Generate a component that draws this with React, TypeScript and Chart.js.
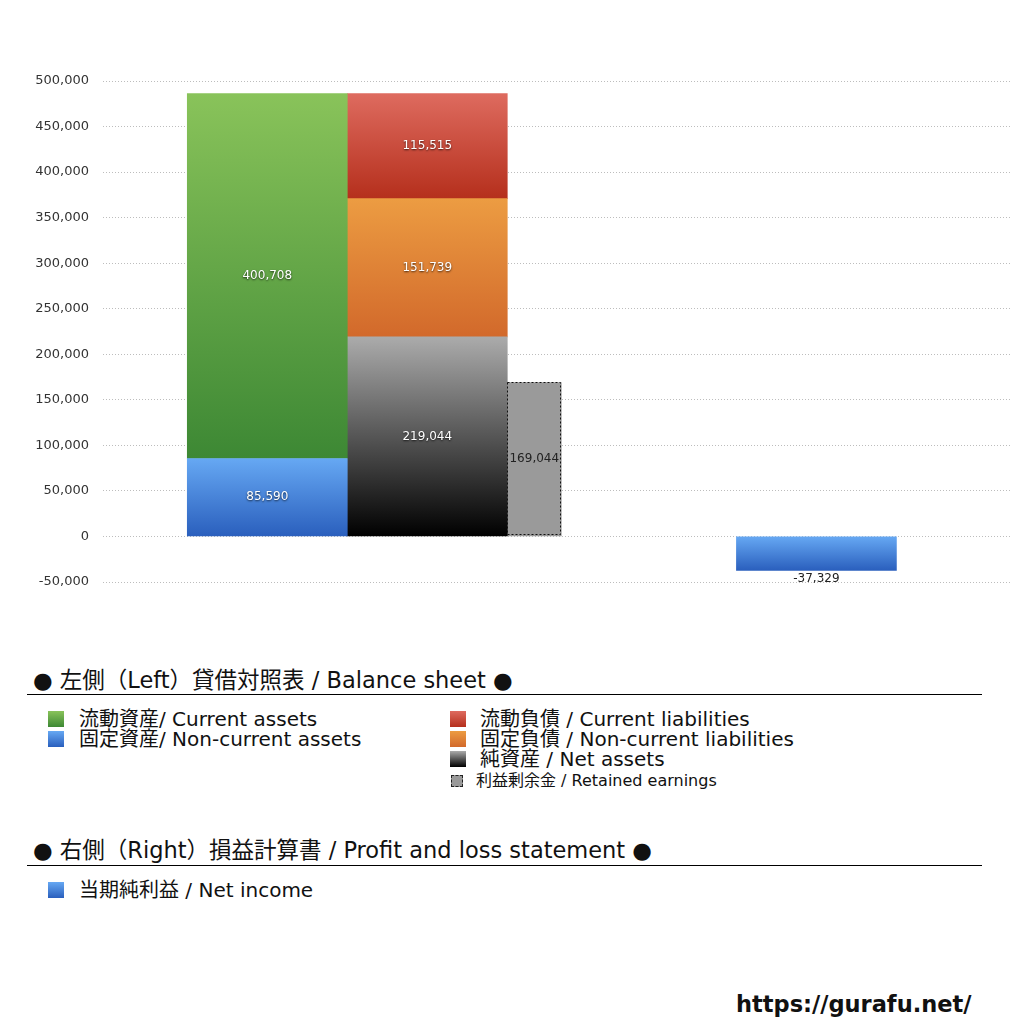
import { useEffect, useRef } from 'react';
import { Chart, registerables } from 'chart.js';

Chart.register(...registerables);

// hidden category slots: balance sheet sits in slot 2, P/L in slot 5
const columns = ['', '', '貸借対照表', '', '', '損益計算書', ''];

const nonCurrentAssets = [null, null, 85590, null, null, null, null];
const currentAssets = [null, null, 400708, null, null, null, null];
const netAssets = [null, null, 219044, null, null, null, null];
const nonCurrentLiabilities = [null, null, 151739, null, null, null, null];
const currentLiabilities = [null, null, 115515, null, null, null, null];
const retainedEarnings = [null, null, 169044, null, null, null, null];
const netIncome = [null, null, null, null, null, -37329, null];

const yTicks = [-50000, 0, 50000, 100000, 150000, 200000, 250000, 300000, 350000, 400000, 450000, 500000];

const bsLeftLegend = ['流動資産/ Current assets', '固定資産/ Non-current assets'];
const bsRightLegend = ['流動負債 /  Current liabilities', '固定負債 / Non-current liabilities', '純資産 / Net assets'];
const retainedLegend = '利益剰余金 / Retained earnings';
const plLegend = ['当期純利益 / Net income'];

const GREEN = ['#89c35a', '#3d8834'];
const BLUE = ['#66a8f3', '#2a5fbd'];
const RED = ['#de6b5f', '#b52f1c'];
const ORANGE = ['#ec9c42', '#d2692b'];
const BLACK = ['#ababab', '#000000'];

const LATIN = '"DejaVu Sans", "Noto Sans CJK JP", sans-serif';

const fmt = (v: number) => v.toLocaleString('en-US');

// vertical gradient stretched over the bar's own value range
const gradientFill = (top: string, bottom: string) => (c: any) => {
  const chart = c.chart;
  const y = chart.scales.y;
  if (!y || !chart.chartArea) return bottom;
  const sets = chart.data.datasets;
  const own = sets[c.datasetIndex];
  const v = own.data[c.dataIndex];
  if (v == null) return bottom;
  let base = 0;
  for (let i = 0; i < c.datasetIndex; i++) {
    if (sets[i].stack === own.stack) base += sets[i].data[c.dataIndex] ?? 0;
  }
  const p1 = y.getPixelForValue(base);
  const p2 = y.getPixelForValue(base + v);
  const t = Math.min(p1, p2);
  const b = Math.max(p1, p2);
  if (!isFinite(t) || !isFinite(b) || b - t < 1) return bottom;
  const g = chart.ctx.createLinearGradient(0, t, 0, b);
  g.addColorStop(0, top);
  g.addColorStop(1, bottom);
  return g;
};

const valueLabels = {
  id: 'valueLabels',
  afterDatasetsDraw(chart: any) {
    const ctx = chart.ctx;
    chart.data.datasets.forEach((ds: any, i: number) => {
      const meta = chart.getDatasetMeta(i);
      meta.data.forEach((el: any, j: number) => {
        const v = ds.data[j];
        if (v == null) return;
        const { x, y, base, width } = el.getProps(['x', 'y', 'base', 'width'], true);
        const top = Math.min(y, base);
        const bottom = Math.max(y, base);
        ctx.save();
        if (ds.dashed) {
          ctx.strokeStyle = '#111';
          ctx.lineWidth = 1;
          ctx.setLineDash([2, 2]);
          ctx.strokeRect(Math.round(x - width / 2) + 0.5, Math.round(top) + 0.5, Math.round(width) - 1, Math.round(bottom - top) - 1);
          ctx.setLineDash([]);
        }
        ctx.font = '12px "DejaVu Sans", sans-serif';
        ctx.textAlign = 'center';
        ctx.textBaseline = 'middle';
        if (v < 0) {
          ctx.fillStyle = '#222';
          ctx.fillText(fmt(v), x, bottom + 8);
        } else if (ds.darkLabel) {
          ctx.fillStyle = '#222';
          ctx.fillText(fmt(v), x, (top + bottom) / 2);
        } else {
          ctx.shadowColor = 'rgba(0,0,0,0.75)';
          ctx.shadowBlur = 2;
          ctx.shadowOffsetY = 1;
          ctx.fillStyle = '#fff';
          ctx.fillText(fmt(v), x, (top + bottom) / 2);
        }
        ctx.restore();
      });
    });
  },
};

function BalanceChart() {
  const chartRef = useRef<HTMLCanvasElement>(null);
  const chartInstance = useRef<Chart | null>(null);

  useEffect(() => {
    if (!chartRef.current) return;
    if (chartInstance.current) {
      chartInstance.current.destroy();
    }
    const ctx = chartRef.current.getContext('2d');
    if (!ctx) return;

    const bar = (label: string, data: (number | null)[], stack: string, colors: string[]) => ({
      label,
      data,
      stack,
      backgroundColor: gradientFill(colors[0], colors[1]),
      borderWidth: 0,
      barThickness: 160,
      skipNull: true,
    });

    chartInstance.current = new Chart(ctx, {
      type: 'bar',
      data: {
        labels: columns,
        datasets: [
          bar('固定資産', nonCurrentAssets, 'assets', BLUE),
          bar('流動資産', currentAssets, 'assets', GREEN),
          bar('純資産', netAssets, 'claims', BLACK),
          bar('固定負債', nonCurrentLiabilities, 'claims', ORANGE),
          bar('流動負債', currentLiabilities, 'claims', RED),
          {
            label: '利益剰余金',
            data: retainedEarnings,
            stack: 'retained',
            backgroundColor: '#9a9a9a',
            borderWidth: 0,
            barThickness: 107,
            maxBarThickness: 54,
            skipNull: true,
            dashed: true,
            darkLabel: true,
          } as any,
          bar('当期純利益', netIncome, 'income', BLUE),
        ],
      },
      options: {
        animation: false,
        responsive: true,
        maintainAspectRatio: false,
        layout: { padding: { top: 81, right: 13, bottom: 38, left: 0 } },
        scales: {
          x: {
            display: false,
            stacked: true,
            offset: true,
          },
          y: {
            stacked: true,
            min: yTicks[0],
            max: yTicks[yTicks.length - 1],
            afterFit: (scale: any) => {
              scale.width = 103;
            },
            ticks: {
              stepSize: yTicks[1] - yTicks[0],
              padding: 14,
              color: '#333',
              font: { family: '"DejaVu Sans", sans-serif', size: 13 },
              callback: (value) => fmt(Number(value)),
            },
            grid: {
              color: '#bdbdbd',
              lineWidth: 1,
              drawTicks: false,
            },
            border: { display: false, dash: [1, 2] },
          },
        },
        plugins: {
          legend: { display: false },
          tooltip: { enabled: false },
        },
      },
      plugins: [valueLabels],
    });

    return () => {
      if (chartInstance.current) {
        chartInstance.current.destroy();
        chartInstance.current = null;
      }
    };
  }, []);

  return (
    <div style={{ position: 'absolute', left: 0, top: 0, width: 1024, height: 620 }}>
      <canvas ref={chartRef} />
    </div>
  );
}

const swatch = (colors: string[], left: number, cy: number, size = 16) => (
  <div
    style={{
      position: 'absolute',
      left,
      top: cy - size / 2,
      width: size,
      height: size,
      background: `linear-gradient(${colors[0]}, ${colors[1]})`,
    }}
  />
);

const text = (s: string, left: number, cy: number, size: number) => (
  <div
    style={{
      position: 'absolute',
      left,
      top: cy - 14,
      height: 28,
      lineHeight: '28px',
      fontSize: size,
      whiteSpace: 'nowrap',
      color: '#111',
    }}
  >
    {s}
  </div>
);

export default function App() {
  return (
    <div
      style={{
        position: 'absolute',
        left: 0,
        top: 0,
        width: 1024,
        height: 1024,
        background: '#fff',
        fontFamily: LATIN,
        overflow: 'hidden',
      }}
    >
      <BalanceChart />

      {text('● 左側（Left）貸借対照表 / Balance sheet ●', 33, 680, 22.5)}
      <div style={{ position: 'absolute', left: 27, top: 694, width: 955, height: 1, background: '#000' }} />
      {swatch(GREEN, 48, 719)}
      {text(bsLeftLegend[0], 79, 719, 20)}
      {swatch(BLUE, 48, 739)}
      {text(bsLeftLegend[1], 79, 739, 20)}
      {swatch(RED, 450, 719)}
      {text(bsRightLegend[0], 480, 719, 20)}
      {swatch(ORANGE, 450, 739)}
      {text(bsRightLegend[1], 480, 739, 20)}
      {swatch(BLACK, 450, 759)}
      {text(bsRightLegend[2], 480, 759, 20)}
      <div
        style={{
          position: 'absolute',
          left: 451,
          top: 775,
          width: 10,
          height: 10,
          background: '#9a9a9a',
          border: '1px dashed #222',
        }}
      />
      {text(retainedLegend, 476, 781, 16)}

      {text('● 右側（Right）損益計算書 / Profit and loss statement ●', 33, 850, 22.5)}
      <div style={{ position: 'absolute', left: 27, top: 865, width: 955, height: 1, background: '#000' }} />
      {swatch(BLUE, 48, 890)}
      {text(plLegend[0], 79, 890, 20)}

      <div
        style={{
          position: 'absolute',
          left: 736,
          top: 988,
          fontSize: 22.5,
          fontWeight: 700,
          lineHeight: '32px',
          color: '#111',
          fontFamily: '"DejaVu Sans", sans-serif',
        }}
      >
        https://gurafu.net/
      </div>
    </div>
  );
}
